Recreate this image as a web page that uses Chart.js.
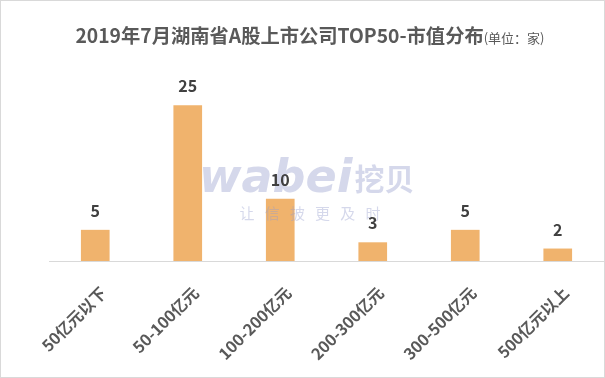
<!DOCTYPE html>
<html>
<head>
<meta charset="utf-8">
<script src="https://cdn.jsdelivr.net/npm/chart.js@4"></script>
<style>
  html, body { margin: 0; padding: 0; background: #fff; }
  #wrap { width: 605px; height: 378px; position: relative; }
</style>
</head>
<body>
<div id="wrap"><canvas id="cap-chart" width="605" height="378"></canvas></div>
<script>
(function () {
    const categories = ['50亿元以下', '50-100亿元', '100-200亿元', '200-300亿元', '300-500亿元', '500亿元以上'];
    const counts = [5, 25, 10, 3, 5, 2];
    const titleMain = '2019年7月湖南省A股上市公司TOP50-市值分布';
    const titleUnit = '(单位：家)';

    const FONT = '"Noto Sans CJK SC", "Microsoft YaHei", sans-serif';

    // title, watermark, value labels, outer border
    const decorations = {
        id: 'decorations',
        afterDatasetsDraw(chart) {
            const c = chart.ctx;
            c.save();
            // watermark
            c.fillStyle = 'rgba(150, 158, 205, 0.4)';
            c.textBaseline = 'alphabetic';
            c.textAlign = 'left';
            c.font = 'italic bold 46px "DejaVu Sans"';
            c.fillText('wabei', 199, 192);
            const w = c.measureText('wabei').width;
            c.font = 'bold 30px ' + FONT;
            c.fillText('挖贝', 199 + w + 2, 190);
            c.font = '15px ' + FONT;
            c.textAlign = 'center';
            '让信披更及时'.split('').forEach((ch, i) => c.fillText(ch, 247 + i * 25.2, 219));

            // value labels
            const meta = chart.getDatasetMeta(0);
            c.fillStyle = '#404040';
            c.font = 'bold 16px ' + FONT;
            c.textAlign = 'center';
            c.textBaseline = 'middle';
            meta.data.forEach((bar, i) => {
                c.fillText(String(counts[i]), bar.x, bar.y - 19);
            });
            c.restore();
        },
        afterDraw(chart) {
            const c = chart.ctx;
            c.save();
            c.textBaseline = 'middle';
            c.textAlign = 'left';
            c.fillStyle = '#595959';
            c.font = 'bold 19.3px ' + FONT;
            const w1 = c.measureText(titleMain).width;
            c.font = '13px ' + FONT;
            const w2 = c.measureText(titleUnit).width;
            const x0 = 310 - (w1 + w2) / 2;
            c.font = 'bold 19.3px ' + FONT;
            c.fillText(titleMain, x0, 36);
            c.font = '13px ' + FONT;
            c.fillText(titleUnit, x0 + w1, 38);
            // outer border
            c.strokeStyle = '#d9d9d9';
            c.lineWidth = 1;
            c.strokeRect(0.5, 0.5, chart.width - 1, chart.height - 1);
            c.restore();
        }
    };

    const ctx = document.getElementById('cap-chart');
    const chart = new Chart(ctx, {
        type: 'bar',
        data: {
            labels: categories,
            datasets: [{
                data: counts,
                backgroundColor: '#F0B36D',
                borderWidth: 0,
                categoryPercentage: 1.0,
                barPercentage: 0.31,
            }]
        },
        options: {
            responsive: false,
            animation: false,
            layout: {
                padding: { left: 49, right: 1, top: 74, bottom: 0 }
            },
            plugins: {
                legend: { display: false },
                tooltip: { enabled: false },
            },
            scales: {
                x: {
                    grid: { display: false, drawTicks: false },
                    border: { display: true, color: '#d9d9d9', width: 1 },
                    ticks: {
                        color: '#595959',
                        font: { family: FONT, size: 16, weight: 'bold' },
                        minRotation: 45,
                        maxRotation: 45,
                        padding: 22,
                        labelOffset: 8,
                        autoSkip: false,
                    },
                    afterFit: function (scale) {
                        scale.height = 117; // keep baseline at y=261
                    },
                },
                y: {
                    display: false,
                    min: 0,
                    max: 30,
                }
            }
        },
        plugins: [decorations],
    });

    window.chart = chart;
})();
</script>
</body>
</html>
